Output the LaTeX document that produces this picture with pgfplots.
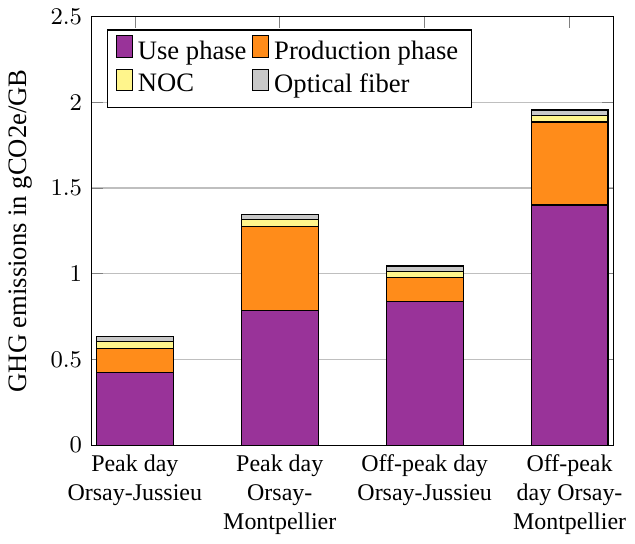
\documentclass[border=0pt]{standalone}
\usepackage{fontspec}
\setmainfont{Liberation Serif}
\usepackage{pgfplots}
\pgfplotsset{compat=1.18}

\definecolor{usec}{RGB}{153,51,153}
\definecolor{prodc}{RGB}{255,140,26}
\definecolor{nocc}{RGB}{255,245,140}
\definecolor{fibc}{RGB}{200,200,200}

\begin{document}
\begin{tikzpicture}
\begin{axis}[
    scale only axis,
    width=196pt, height=161pt,
    ybar stacked,
    bar width=0.53,
    xmin=-0.3, xmax=3.3,
    ymin=0, ymax=2.5,
    xtick=data,
    xticklabels={{Peak day\\Orsay-Jussieu}, {Peak day\\Orsay-\\Montpellier}, {Off-peak day\\Orsay-Jussieu}, {Off-peak\\day Orsay-\\Montpellier}},
    tick label style={font=\small},
    xticklabel style={align=center},
    ytick={0,0.5,1,1.5,2,2.5},
    ymajorgrids,
    ylabel={GHG emissions in gCO2e/GB},
    legend pos=north west,
    legend columns=2,
    legend style={cells={anchor=west}},
]
\addplot[fill=usec, draw=black] coordinates {(0,0.426) (1,0.785) (2,0.837) (3,1.401)};
\addlegendentry{Use phase}
\addplot[fill=prodc, draw=black] coordinates {(0,0.140) (1,0.490) (2,0.142) (3,0.484)};
\addlegendentry{Production phase}
\addplot[fill=nocc, draw=black] coordinates {(0,0.039) (1,0.039) (2,0.034) (3,0.039)};
\addlegendentry{NOC}
\addplot[fill=fibc, draw=black] coordinates {(0,0.030) (1,0.031) (2,0.032) (3,0.031)};
\addlegendentry{Optical fiber}
\end{axis}
\end{tikzpicture}
\end{document}
